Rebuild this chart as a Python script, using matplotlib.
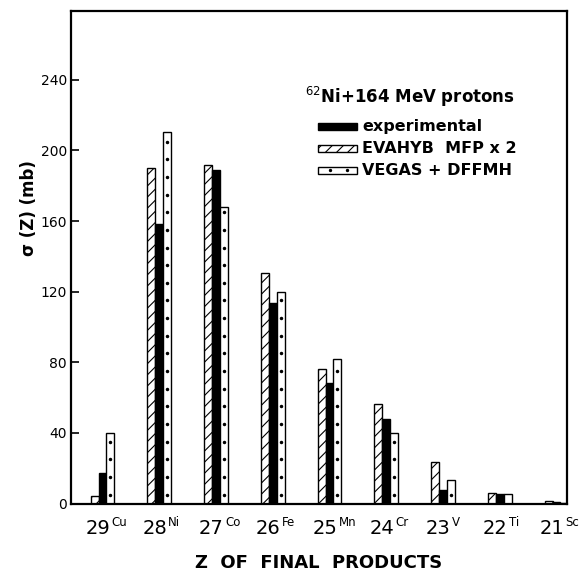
import numpy as np
import matplotlib
matplotlib.use("Agg")
import matplotlib.pyplot as plt
from matplotlib.patches import Rectangle

# values (mb)
elements = ['Cu', 'Ni', 'Co', 'Fe', 'Mn', 'Cr', 'V', 'Ti', 'Sc']
z_numbers = [29, 28, 27, 26, 25, 24, 23, 22, 21]
evahyb = [4.4, 190, 192, 130.5, 76.2, 56.4, 23.7, 6.2, 1.6]
experimental = [17.5, 158.5, 189, 113.5, 68.5, 48, 7.5, 5.4, 0.8]
vegas = [40, 210.5, 168, 120, 82, 40, 13.3, 5.4, 0.5]
yticks = [0, 40, 80, 120, 160, 200, 240]

plt.rcParams['font.family'] = 'DejaVu Sans'
plt.rcParams['mathtext.fontset'] = 'dejavusans'
plt.rcParams['hatch.linewidth'] = 0.8

fig = plt.figure(figsize=(5.79, 5.73), dpi=100)
ax = fig.add_axes([71 / 579, 69.5 / 573, 496 / 579, 492.5 / 573])

x = np.arange(len(elements))
w = 0.14
ax.bar(x - w, evahyb, w, color='white', edgecolor='black', linewidth=1.0, hatch='///')
ax.bar(x, experimental, w, color='black', edgecolor='black', linewidth=1.0)
ax.bar(x + w, vegas, w, color='white', edgecolor='black', linewidth=1.0)

# sparse dots inside the VEGAS bars
for xi, v in zip(x, vegas):
    dots = np.arange(5, v - 2, 10)
    ax.scatter(np.full(len(dots), xi + w), dots, s=2.2, color='black', zorder=3)

ax.set_xlim(-0.555, 8.185)
ax.set_ylim(0, 279)
ax.set_yticks(yticks)
ax.set_yticklabels([str(t) for t in yticks], fontsize=10)
ax.tick_params(axis='y', direction='in', length=6, width=1.2, pad=3)
ax.set_xticks(x)
ax.set_xticklabels([])
ax.tick_params(axis='x', length=0)
for sp in ax.spines.values():
    sp.set_linewidth(1.6)

# Z number with element symbol as a small superscript
for xi, z, el in zip(x, z_numbers, elements):
    ax.annotate(str(z), xy=(xi, 0), xycoords=('data', 'axes fraction'),
                xytext=(5.5, -11.5), textcoords='offset points',
                ha='right', va='top', fontsize=14)
    ax.annotate(el, xy=(xi, 0), xycoords=('data', 'axes fraction'),
                xytext=(6.5, -9), textcoords='offset points',
                ha='left', va='top', fontsize=8.5, annotation_clip=False)

ax.set_xlabel('Z  OF  FINAL  PRODUCTS', fontsize=13, fontweight='bold', labelpad=33)
ax.set_ylabel('σ (Z) (mb)', fontsize=12, fontweight='bold')
ax.yaxis.set_label_coords(-0.067, 0.60)

# hand-drawn legend block
ax.text(0.472, 0.826, '$^{62}$Ni+164 MeV protons', transform=ax.transAxes,
        fontsize=12, fontweight='bold', va='center', ha='left')
legend_rows = [
    ('experimental', dict(facecolor='black', edgecolor='black')),
    ('EVAHYB  MFP x 2', dict(facecolor='white', edgecolor='black', hatch='///')),
    ('VEGAS + DFFMH', dict(facecolor='white', edgecolor='black')),
]
row_y = [0.765, 0.721, 0.677]
pw, ph = 0.0786, 0.0142
for (label, style), yy in zip(legend_rows, row_y):
    ax.add_patch(Rectangle((0.498, yy - ph / 2), pw, ph, transform=ax.transAxes,
                           linewidth=1.0, clip_on=False, **style))
    ax.text(0.587, yy, label, transform=ax.transAxes, fontsize=11.5,
            fontweight='bold', va='center', ha='left')
ax.scatter([0.498 + pw * 0.3, 0.498 + pw * 0.74], [row_y[2], row_y[2]],
           s=2, color='black', transform=ax.transAxes, zorder=4)

fig.savefig('out.png', dpi=100)
